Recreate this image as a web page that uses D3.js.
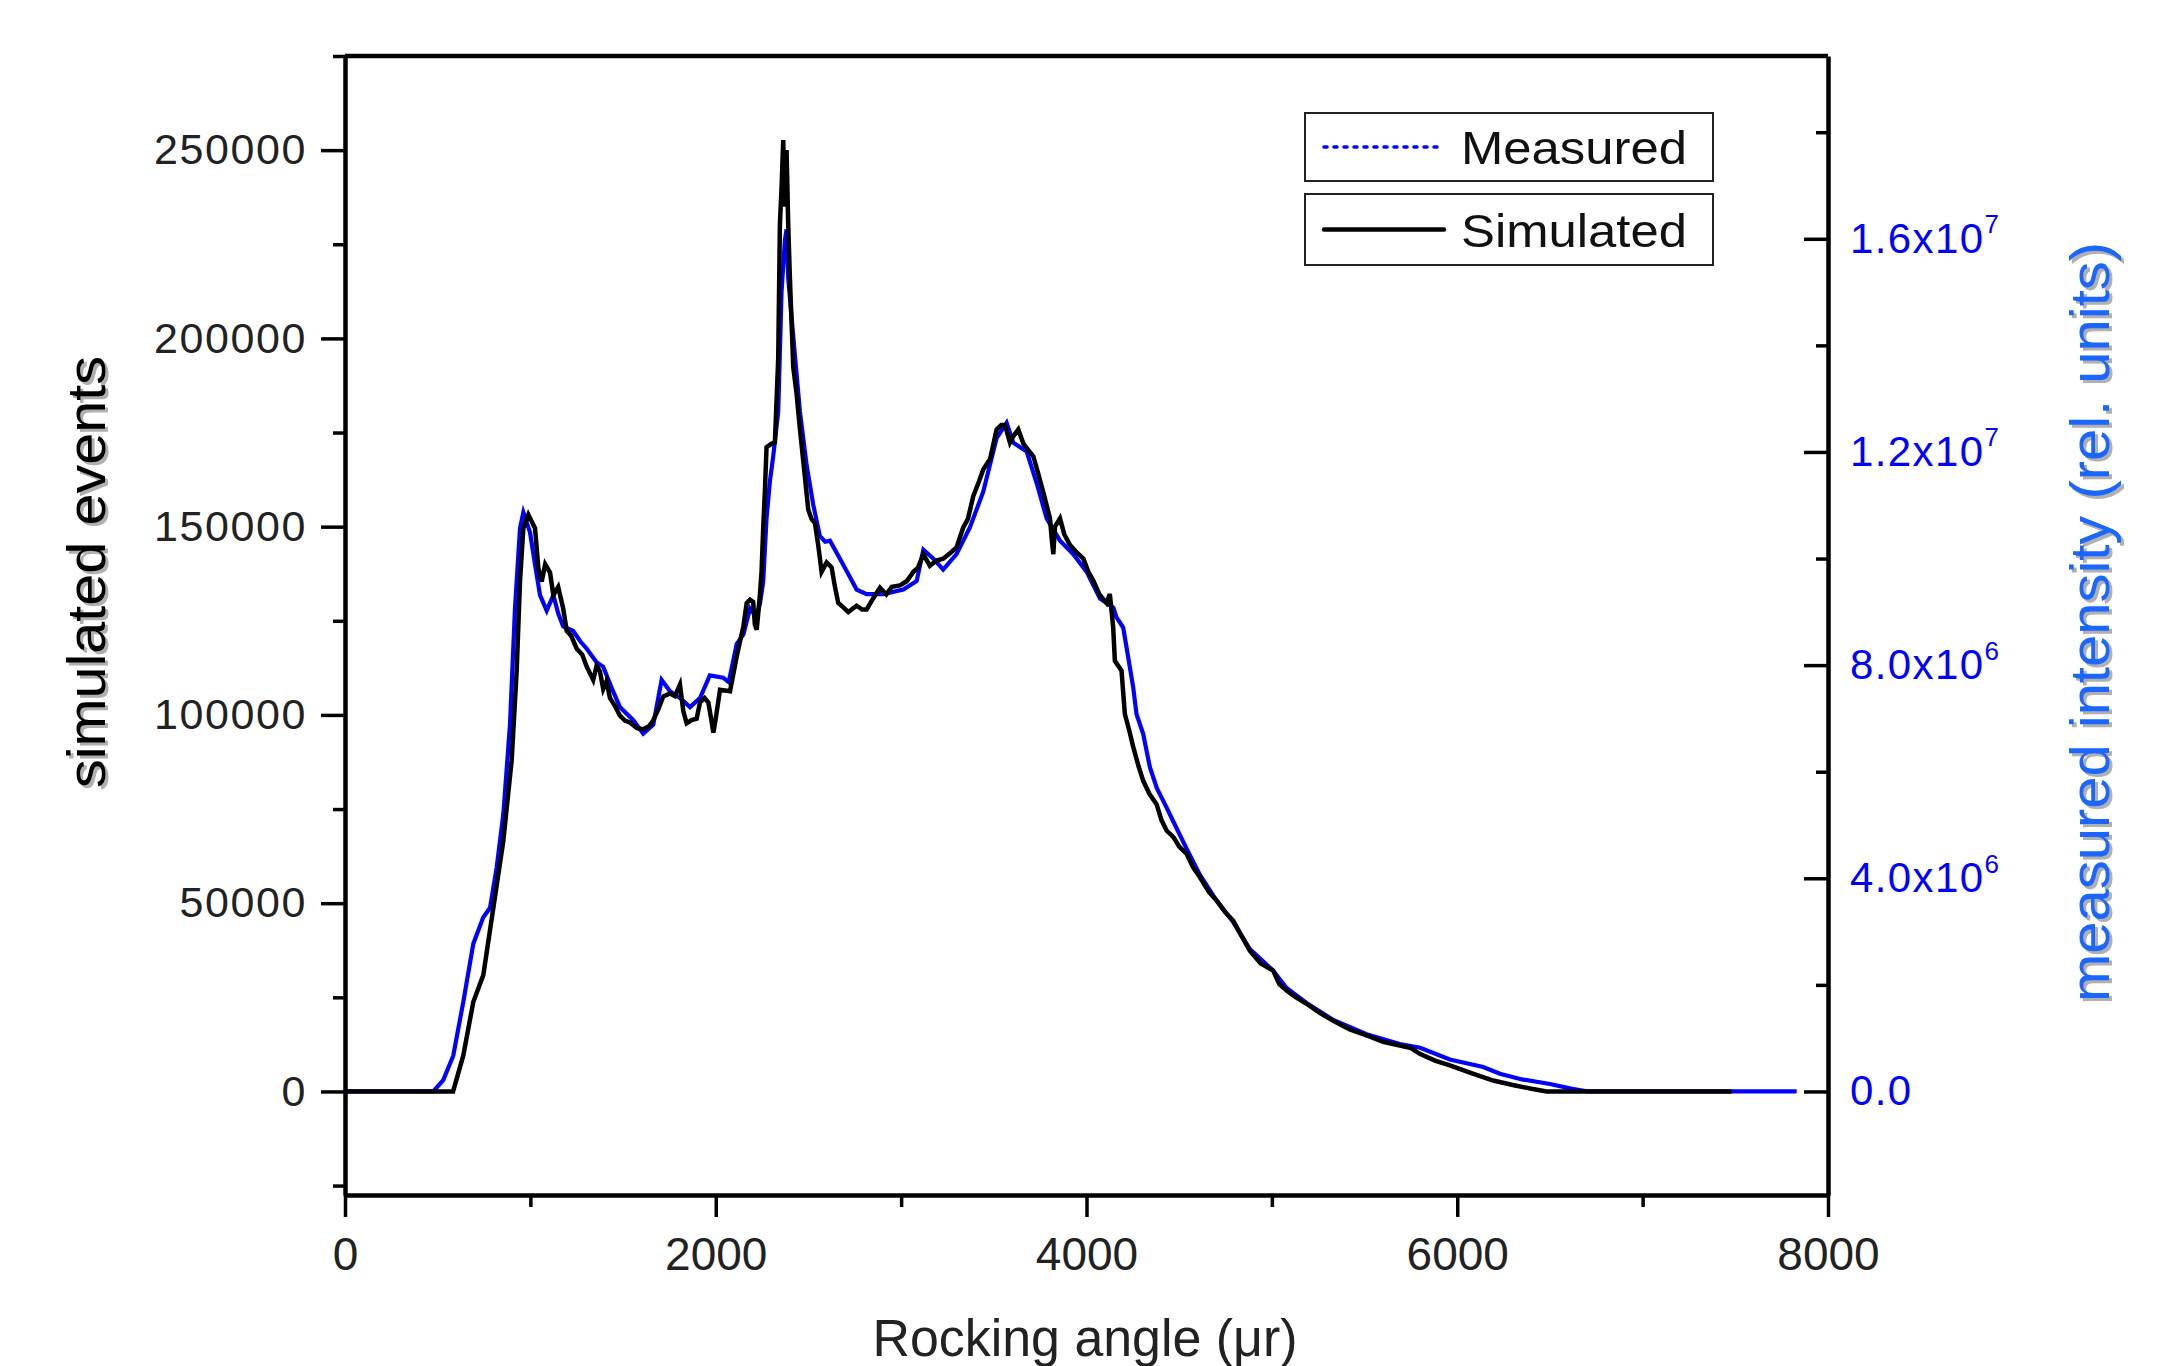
<!DOCTYPE html>
<html>
<head>
<meta charset="utf-8">
<script src="https://cdn.jsdelivr.net/npm/d3@7"></script>
<style>
  body { margin: 0; background: #fff; }
  text { font-family: "Liberation Sans", Arial, sans-serif; }
</style>
</head>
<body>
<svg width="2163" height="1366"></svg>
<script>
// rocking angle (microrad) and simulated events
const simX = [0, 583, 638, 692, 746, 800, 854, 899, 926, 944, 962, 989, 1025, 1043, 1061, 1080, 1106, 1124, 1150, 1177,
  1196, 1220, 1250, 1280, 1304, 1339, 1357, 1375, 1393, 1411, 1429, 1455, 1483, 1510, 1537, 1575, 1609, 1640, 1663, 1690,
  1717, 1753, 1780, 1807, 1825, 1843, 1870, 1897, 1915, 1940, 1960, 1975, 1987, 2000, 2023, 2050, 2077, 2113, 2149, 2167,
  2185, 2202, 2211, 2221, 2238, 2247, 2256, 2265, 2274, 2300, 2319, 2337, 2346, 2355, 2364, 2373, 2382, 2391, 2400, 2418,
  2436, 2454, 2472, 2499, 2517, 2535, 2553, 2571, 2598, 2625, 2643, 2661, 2690, 2715, 2760, 2790, 2814, 2850, 2886, 2920,
  2950, 2994, 3030, 3066, 3090, 3120, 3155, 3190, 3227, 3265, 3299, 3335, 3360, 3389, 3420, 3443, 3480, 3515, 3540, 3560,
  3587, 3605, 3632, 3660, 3713, 3740, 3766, 3803, 3812, 3821, 3830, 3857, 3880, 3911, 3950, 3983, 4010, 4037, 4070, 4108,
  4126, 4144, 4153, 4189, 4207, 4230, 4252, 4280, 4306, 4340, 4378, 4405, 4432, 4470, 4500, 4540, 4575, 4612, 4660, 4702,
  4750, 4791, 4840, 4881, 4940, 5007, 5040, 5079, 5130, 5187, 5260, 5331, 5420, 5511, 5600, 5690, 5750, 5798, 5880, 5960,
  6080, 6194, 6300, 6400, 6482, 7480]
const simY = [0, 0, 9500, 23750, 30900, 48700, 66500, 87900, 111600, 135400, 149600, 153200, 149600, 139000, 135400, 140000, 137800, 131800, 134000, 128300,
  122300, 121000, 117600, 116000, 112800, 109300, 113000, 111600, 106900, 109000, 104500, 102500, 99800, 98500, 98000, 96500, 96200, 97000, 98600, 101500,
  104900, 105700, 105000, 108100, 101000, 97800, 98600, 99000, 103300, 104500, 103300, 99000, 95300, 99000, 106700, 106500, 106300, 115500, 123500, 129700,
  130600, 130000, 124000, 122600, 131800, 138000, 149600, 159300, 171100, 172000, 172300, 194700, 230200, 240000, 252700, 235000, 250000, 230200, 216000, 192400,
  185300, 176000, 167500, 154500, 152000, 151000, 145000, 138000, 140500, 139200, 134000, 129700, 128500, 127300, 129000, 128000, 128000, 131000, 133800, 132000,
  134000, 134400, 135500, 138000, 139000, 142700, 139600, 141000, 141500, 143000, 144500, 149800, 152000, 158100, 162000, 165200, 168000, 175800, 177000, 177000,
  172300, 174000, 175800, 172000, 168700, 164000, 159300, 152200, 147000, 142700, 150000, 152200, 148000, 145100, 143000, 141500, 138000, 135600, 132000, 129700,
  132100, 123200, 114400, 111700, 100200, 96000, 91500, 86500, 82500, 79000, 76300, 72000, 69300, 67500, 65000, 63100, 59500, 56900, 53000, 50700,
  47500, 45400, 41000, 37400, 34000, 32100, 28500, 26800, 25000, 23300, 20800, 18800, 16500, 14900, 13200, 12200, 11500, 10000, 8200, 6900,
  4800, 2900, 1700, 700, 0, 0]

// measured intensity (rel. units), right axis
const measX = [0, 476, 530, 584, 638, 692, 746, 782, 818, 854, 890, 917, 944, 962, 998, 1025, 1052, 1088, 1124, 1150,
  1177, 1231, 1270, 1304, 1357, 1393, 1440, 1483, 1555, 1609, 1663, 1708, 1753, 1807, 1861, 1915, 1968, 2040, 2070, 2113,
  2149, 2185, 2220, 2239, 2256, 2274, 2292, 2310, 2337, 2355, 2373, 2382, 2391, 2418, 2454, 2490, 2526, 2562, 2590, 2616,
  2670, 2720, 2760, 2814, 2904, 3012, 3084, 3120, 3174, 3227, 3299, 3371, 3443, 3515, 3569, 3605, 3677, 3731, 3785, 3857,
  3929, 4001, 4073, 4145, 4162, 4198, 4225, 4252, 4270, 4306, 4342, 4380, 4423, 4480, 4540, 4612, 4702, 4791, 4881, 5007,
  5079, 5187, 5331, 5511, 5690, 5800, 5960, 6140, 6230, 6350, 6500, 6620, 6707, 7831]
const measY = [0, 0, 212000, 671000, 1678000, 2769000, 3271000, 3441000, 4197000, 5200000, 6881000, 9064000, 10569000, 10866000, 10492000, 9891000, 9312000, 9022000, 9312000, 8973000,
  8725000, 8641000, 8443000, 8308000, 8054000, 7969000, 7560000, 7213000, 6966000, 6712000, 6881000, 7722000, 7510000, 7383000, 7213000, 7383000, 7807000, 7764000, 7680000, 8393000,
  8577000, 9064000, 8902000, 9163000, 9566000, 10753000, 11445000, 11919000, 12759000, 15013000, 15967000, 16179000, 15260000, 14172000, 12759000, 11756000, 11007000, 10421000, 10315000, 10336000,
  9997000, 9679000, 9418000, 9333000, 9333000, 9418000, 9580000, 10167000, 9997000, 9792000, 10082000, 10583000, 11255000, 12258000, 12547000, 12173000, 12011000, 11417000, 10753000, 10336000,
  10082000, 9750000, 9248000, 9079000, 8895000, 8704000, 8146000, 7581000, 7079000, 6705000, 6083000, 5687000, 5391000, 4981000, 4557000, 4062000, 3582000, 3179000, 2671000, 2268000,
  1943000, 1660000, 1342000, 1074000, 890000, 820000, 600000, 459000, 332000, 226000, 141000, 49000, 0, 0]

const xTicks = [0, 2000, 4000, 6000, 8000]
const xMinor = [1000, 3000, 5000, 7000]
const leftTicks = [0, 50000, 100000, 150000, 200000, 250000]
const leftMinor = [-25000, 25000, 75000, 125000, 175000, 225000, 275000]
const rightTicks = [0, 4e6, 8e6, 1.2e7, 1.6e7]
const rightMinor = [2e6, 6e6, 1e7, 1.4e7, 1.8e7]
const rightLabels = [["0.0", ""], ["4.0x10", "6"], ["8.0x10", "6"], ["1.2x10", "7"], ["1.6x10", "7"]]

const svg = d3.select("svg")
const L = 345, R = 1828, T = 56, B = 1195

const x = d3.scaleLinear().domain([0, 8000]).range([L, R])
const yL = d3.scaleLinear().domain([-27500, 275000]).range([B, T])
const yR = d3.scaleLinear().domain([-1943000, 19430000]).range([B, T])

// frame top line
svg.append("line").attr("x1", L).attr("x2", R).attr("y1", T).attr("y2", T)
  .attr("stroke", "#000").attr("stroke-width", 4.5)

// curves
const measLine = d3.line().x(function(d) { return x(d[0]) }).y(function(d) { return yR(d[1]) })
const simLine = d3.line().x(function(d) { return x(d[0]) }).y(function(d) { return yL(d[1]) })

svg.append("path").datum(d3.zip(measX, measY)).attr("d", measLine)
  .attr("fill", "none").attr("stroke", "#0000ff").attr("stroke-width", 4.2).attr("stroke-linejoin", "miter")
svg.append("path").datum(d3.zip(simX, simY)).attr("d", simLine)
  .attr("fill", "none").attr("stroke", "#000").attr("stroke-width", 4.5).attr("stroke-linejoin", "miter")

function styleAxis(g) {
  g.select(".domain").attr("stroke-width", 4.5)
  g.selectAll(".tick line").attr("stroke-width", 3.5)
}

// bottom
svg.append("g").attr("transform", "translate(0," + B + ")")
  .call(d3.axisBottom(x).tickValues(xMinor).tickSize(12).tickFormat(""))
  .call(styleAxis).call(function(g) { g.select(".domain").remove() })
svg.append("g").attr("transform", "translate(0," + B + ")")
  .call(d3.axisBottom(x).tickValues(xTicks).tickSize(22).tickPadding(20).tickSizeOuter(0).tickFormat(d3.format("d")))
  .call(styleAxis)
  .call(function(g) { g.selectAll("text").attr("font-size", 46).attr("fill", "#222").style("font-family", "Liberation Sans, Arial") })

// left
svg.append("g").attr("transform", "translate(" + L + ",0)")
  .call(d3.axisLeft(yL).tickValues(leftMinor).tickSize(12).tickFormat(""))
  .call(styleAxis).call(function(g) { g.select(".domain").remove() })
svg.append("g").attr("transform", "translate(" + L + ",0)")
  .call(d3.axisLeft(yL).tickValues(leftTicks).tickSize(24).tickPadding(14).tickSizeOuter(0).tickFormat(d3.format("d")))
  .call(styleAxis)
  .call(function(g) { g.selectAll("text").attr("font-size", 43).attr("fill", "#222").attr("letter-spacing", 1.6).style("font-family", "Liberation Sans, Arial") })

// right, ticks pointing inward
svg.append("g").attr("transform", "translate(" + R + ",0)")
  .call(d3.axisRight(yR).tickValues(rightMinor).tickSizeInner(-12).tickSizeOuter(0).tickFormat(""))
  .call(styleAxis).call(function(g) { g.select(".domain").remove() })
const rAxis = svg.append("g").attr("transform", "translate(" + R + ",0)")
  .call(d3.axisRight(yR).tickValues(rightTicks).tickSizeInner(-24).tickSizeOuter(0).tickPadding(22).tickFormat(""))
  .call(styleAxis)
rAxis.selectAll(".tick text").each(function(d, i) {
  const t = d3.select(this).attr("font-size", 42).attr("fill", "#0000ff").attr("letter-spacing", 1.4)
    .style("font-family", "Liberation Sans, Arial")
  t.append("tspan").text(rightLabels[i][0])
  if (rightLabels[i][1]) t.append("tspan").attr("font-size", 26).attr("dy", "-0.75em").text(rightLabels[i][1])
})

// axis titles
function shadowText(tr, txt, size, color, len) {
  const g = svg.append("g")
  g.append("text").attr("transform", "translate(3,3) " + tr).attr("text-anchor", "middle")
    .attr("font-size", size).attr("fill", "#b0b0b0").attr("textLength", len).attr("lengthAdjust", "spacingAndGlyphs").text(txt)
  g.append("text").attr("transform", tr).attr("text-anchor", "middle")
    .attr("font-size", size).attr("fill", color).attr("textLength", len).attr("lengthAdjust", "spacingAndGlyphs").text(txt)
}
shadowText("translate(105,572) rotate(-90)", "simulated events", 54, "#000", 432)
shadowText("translate(2109,622) rotate(-90)", "measured intensity (rel. units)", 56, "#1a66ff", 760)

svg.append("text").attr("x", 1085).attr("y", 1356).attr("text-anchor", "middle")
  .attr("font-size", 51).attr("fill", "#222").attr("textLength", 425).attr("lengthAdjust", "spacingAndGlyphs")
  .text("Rocking angle (\u03bcr)")

// legend
const legend = [
  { name: "Measured", y0: 113, y1: 181, color: "#0000ff", dash: "3 7", w: 3.5 },
  { name: "Simulated", y0: 194, y1: 265, color: "#000", dash: null, w: 4.5 }
]
legend.forEach(function(d) {
  svg.append("rect").attr("x", 1305).attr("y", d.y0).attr("width", 408).attr("height", d.y1 - d.y0)
    .attr("fill", "#fff").attr("stroke", "#222").attr("stroke-width", 2)
  const my = (d.y0 + d.y1) / 2
  svg.append("line").attr("x1", 1324).attr("x2", 1444).attr("y1", my).attr("y2", my)
    .attr("stroke", d.color).attr("stroke-width", d.w).attr("stroke-dasharray", d.dash)
    .attr("stroke-linecap", "round")
  svg.append("text").attr("x", 1461).attr("y", my + 17).attr("font-size", 47).attr("fill", "#111")
    .attr("textLength", 226).attr("lengthAdjust", "spacingAndGlyphs").text(d.name)
})
</script>
</body>
</html>
